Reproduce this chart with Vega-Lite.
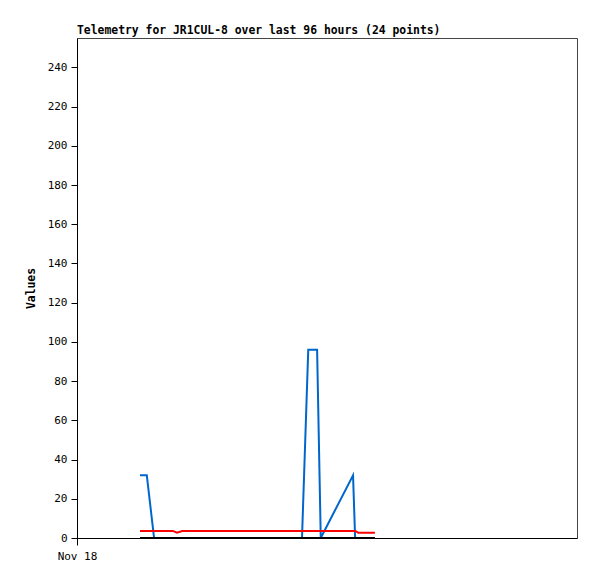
{
  "$schema": "https://vega.github.io/schema/vega-lite/v6.json",
  "width": 500,
  "height": 500,
  "autosize": {"type": "none"},
  "padding": {"left": 77, "top": 38, "right": 20, "bottom": 41},
  "background": "white",
  "title": {"text": "Telemetry for JR1CUL-8 over last 96 hours (24 points)", "anchor": "start", "frame": "group", "font": "DejaVu Sans Mono", "fontSize": 11.4, "fontWeight": "bold", "color": "black", "offset": 2},
  "config": {"view": {"stroke": "#444444", "strokeWidth": 1}},
  "data": {"values": [
    {"t": "2023-11-18T12:06:00", "s": "B", "v": 32}, {"t": "2023-11-18T12:06:00", "s": "R", "v": 3.6}, {"t": "2023-11-18T12:06:00", "s": "K", "v": 0},
    {"t": "2023-11-18T13:24:00", "s": "B", "v": 32}, {"t": "2023-11-18T13:24:00", "s": "R", "v": 3.6}, {"t": "2023-11-18T13:24:00", "s": "K", "v": 0},
    {"t": "2023-11-18T14:48:00", "s": "B", "v": 0}, {"t": "2023-11-18T14:48:00", "s": "R", "v": 3.6}, {"t": "2023-11-18T14:48:00", "s": "K", "v": 0},
    {"t": "2023-11-18T16:30:00", "s": "B", "v": 0}, {"t": "2023-11-18T16:30:00", "s": "R", "v": 3.6}, {"t": "2023-11-18T16:30:00", "s": "K", "v": 0},
    {"t": "2023-11-18T18:24:00", "s": "B", "v": 0}, {"t": "2023-11-18T18:24:00", "s": "R", "v": 3.6}, {"t": "2023-11-18T18:24:00", "s": "K", "v": 0},
    {"t": "2023-11-18T19:12:00", "s": "B", "v": 0}, {"t": "2023-11-18T19:12:00", "s": "R", "v": 2.7}, {"t": "2023-11-18T19:12:00", "s": "K", "v": 0},
    {"t": "2023-11-18T20:12:00", "s": "B", "v": 0}, {"t": "2023-11-18T20:12:00", "s": "R", "v": 3.6}, {"t": "2023-11-18T20:12:00", "s": "K", "v": 0},
    {"t": "2023-11-18T22:00:00", "s": "B", "v": 0}, {"t": "2023-11-18T22:00:00", "s": "R", "v": 3.6}, {"t": "2023-11-18T22:00:00", "s": "K", "v": 0},
    {"t": "2023-11-19T00:30:00", "s": "B", "v": 0}, {"t": "2023-11-19T00:30:00", "s": "R", "v": 3.6}, {"t": "2023-11-19T00:30:00", "s": "K", "v": 0},
    {"t": "2023-11-19T03:00:00", "s": "B", "v": 0}, {"t": "2023-11-19T03:00:00", "s": "R", "v": 3.6}, {"t": "2023-11-19T03:00:00", "s": "K", "v": 0},
    {"t": "2023-11-19T06:00:00", "s": "B", "v": 0}, {"t": "2023-11-19T06:00:00", "s": "R", "v": 3.6}, {"t": "2023-11-19T06:00:00", "s": "K", "v": 0},
    {"t": "2023-11-19T09:00:00", "s": "B", "v": 0}, {"t": "2023-11-19T09:00:00", "s": "R", "v": 3.6}, {"t": "2023-11-19T09:00:00", "s": "K", "v": 0},
    {"t": "2023-11-19T12:00:00", "s": "B", "v": 0}, {"t": "2023-11-19T12:00:00", "s": "R", "v": 3.6}, {"t": "2023-11-19T12:00:00", "s": "K", "v": 0},
    {"t": "2023-11-19T15:00:00", "s": "B", "v": 0}, {"t": "2023-11-19T15:00:00", "s": "R", "v": 3.6}, {"t": "2023-11-19T15:00:00", "s": "K", "v": 0},
    {"t": "2023-11-19T17:30:00", "s": "B", "v": 0}, {"t": "2023-11-19T17:30:00", "s": "R", "v": 3.6}, {"t": "2023-11-19T17:30:00", "s": "K", "v": 0},
    {"t": "2023-11-19T19:12:00", "s": "B", "v": 0}, {"t": "2023-11-19T19:12:00", "s": "R", "v": 3.6}, {"t": "2023-11-19T19:12:00", "s": "K", "v": 0},
    {"t": "2023-11-19T20:24:00", "s": "B", "v": 96}, {"t": "2023-11-19T20:24:00", "s": "R", "v": 3.6}, {"t": "2023-11-19T20:24:00", "s": "K", "v": 0},
    {"t": "2023-11-19T22:06:00", "s": "B", "v": 96}, {"t": "2023-11-19T22:06:00", "s": "R", "v": 3.6}, {"t": "2023-11-19T22:06:00", "s": "K", "v": 0},
    {"t": "2023-11-19T22:48:00", "s": "B", "v": 0}, {"t": "2023-11-19T22:48:00", "s": "R", "v": 3.6}, {"t": "2023-11-19T22:48:00", "s": "K", "v": 0},
    {"t": "2023-11-20T05:00:00", "s": "B", "v": 32}, {"t": "2023-11-20T05:00:00", "s": "R", "v": 3.6}, {"t": "2023-11-20T05:00:00", "s": "K", "v": 0},
    {"t": "2023-11-20T05:24:00", "s": "B", "v": 0}, {"t": "2023-11-20T05:24:00", "s": "R", "v": 3.6}, {"t": "2023-11-20T05:24:00", "s": "K", "v": 0},
    {"t": "2023-11-20T06:00:00", "s": "B", "v": 0}, {"t": "2023-11-20T06:00:00", "s": "R", "v": 2.7}, {"t": "2023-11-20T06:00:00", "s": "K", "v": 0},
    {"t": "2023-11-20T07:30:00", "s": "B", "v": 0}, {"t": "2023-11-20T07:30:00", "s": "R", "v": 2.7}, {"t": "2023-11-20T07:30:00", "s": "K", "v": 0},
    {"t": "2023-11-20T09:12:00", "s": "B", "v": 0}, {"t": "2023-11-20T09:12:00", "s": "R", "v": 2.7}, {"t": "2023-11-20T09:12:00", "s": "K", "v": 0}
  ]},
  "mark": {"type": "line", "strokeWidth": 2, "interpolate": "linear"},
  "encoding": {
    "x": {"field": "t", "type": "temporal",
      "scale": {"domain": [{"year": 2023, "month": 11, "date": 18}, {"year": 2023, "month": 11, "date": 22}]},
      "axis": {"title": null, "values": [{"year": 2023, "month": 11, "date": 18}], "format": "%b %d", "grid": false, "labelFlush": false, "labelAlign": "center",
        "domainColor": "black", "tickColor": "black", "tickSize": 7, "labelFont": "DejaVu Sans Mono", "labelFontSize": 11, "labelColor": "black", "labelPadding": 5}},
    "y": {"field": "v", "type": "quantitative",
      "scale": {"domain": [0, 255], "nice": false},
      "axis": {"title": "Values", "values": [0, 20, 40, 60, 80, 100, 120, 140, 160, 180, 200, 220, 240], "grid": false,
        "domainColor": "black", "tickColor": "black", "tickSize": 6, "labelFont": "DejaVu Sans Mono", "labelFontSize": 11, "labelColor": "black", "labelPadding": 4,
        "titleFont": "DejaVu Sans Mono", "titleFontSize": 11.4, "titleFontWeight": "bold", "titleColor": "black", "titlePadding": 11}},
    "color": {"field": "s", "type": "nominal", "scale": {"domain": ["B", "R", "K"], "range": ["#0066cc", "#ff0000", "#000000"]}, "legend": null}
  }
}
